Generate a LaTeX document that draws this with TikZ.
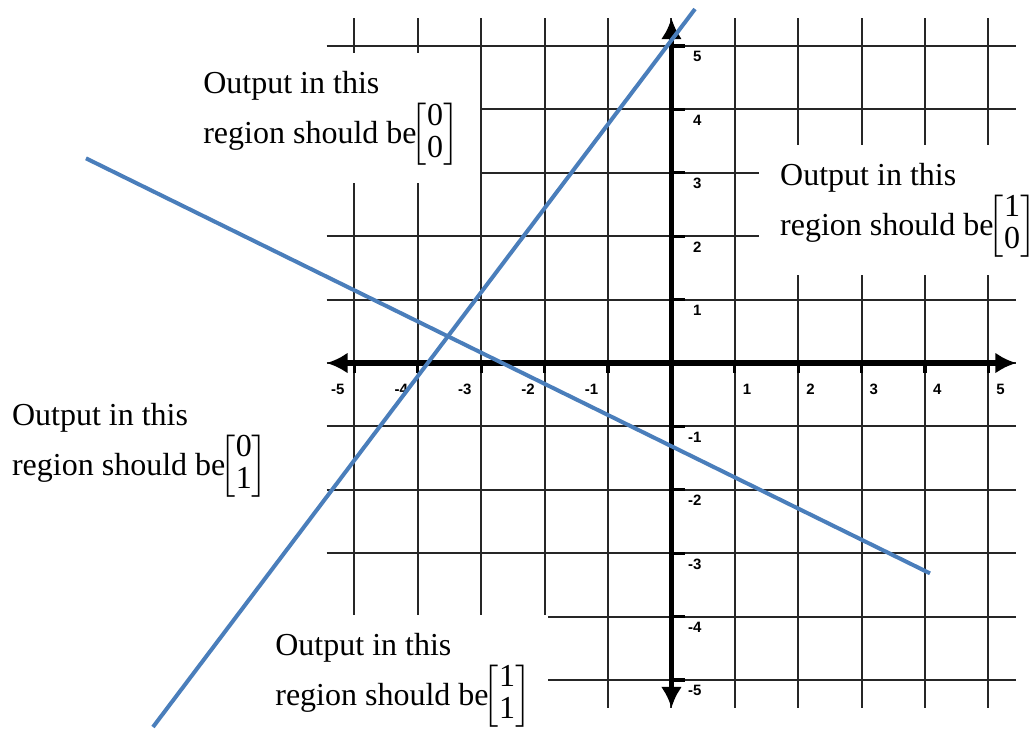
\documentclass[tikz,border=0pt]{standalone}
\usepackage{amsmath}
\usepackage{fontspec}
\setmainfont{Liberation Serif}
\newfontfamily\ticksfont{Liberation Sans}
\usetikzlibrary{arrows.meta}
\definecolor{bndblue}{RGB}{74,126,187}
\newcommand{\outvec}[2]{$\delimiterfactor=780\delimitershortfall=8pt\!\begin{bmatrix}\text{#1}\\\text{#2}\end{bmatrix}$}
\tikzset{
  gridline/.style={line width=1pt, black!85},
  axisline/.style={line width=2.6pt, {Latex[length=10.5pt,width=10.5pt]}-{Latex[length=10.5pt,width=10.5pt]}},
  tickmark/.style={line width=1.6pt},
  numlbl/.style={font=\ticksfont\bfseries\fontsize{7.5}{8}\selectfont, inner sep=0pt},
  outlbl/.style={font=\fontsize{16}{16}\selectfont, inner sep=0pt, anchor=base west},
  coverbox/.style={fill=white, draw=none},
  boundary/.style={line width=2pt, bndblue},
}
\begin{document}
\begin{tikzpicture}[x=31.7pt, y=31.7pt]
    \useasboundingbox (-10.591,-5.773) rectangle (5.718,5.726);
    % Grid, cover boxes, axes and ticks:
    \foreach \k in {-5,...,5}{
        \draw[gridline] (\k,-5.44) -- (\k,5.44);
        \draw[gridline] (-5.44,\k) -- (5.44,\k);
    }
    \fill[coverbox] (-7.6,2.84) rectangle (-3.02,4.89);
    \fill[coverbox] (1.38,1.39) rectangle (5.718,3.44);
    \fill[coverbox] (-5.465,-5.773) rectangle (-1.95,-3.975);
    \draw[axisline] (-5.44,0) -- (5.44,0);
    \draw[axisline] (0,-5.44) -- (0,5.44);
    \foreach \k in {1,...,5}{
        \draw[tickmark] (\k,0) -- (\k,-0.16);
        \draw[tickmark] (-\k,0) -- (-\k,-0.16);
        \draw[tickmark] (0,\k) -- (0.22,\k);
        \draw[tickmark] (0,-\k) -- (0.22,-\k);
        \node[numlbl, anchor=west] (xp\k) at (\k+0.12,-0.42) {\k};
        \node[numlbl, anchor=east] (xn\k) at (-\k-0.15,-0.42) {-\k};
        \node[numlbl, anchor=east] (yp\k) at (0.48,\k-0.17) {\k};
        \node[numlbl, anchor=east] (yn\k) at (0.48,-\k-0.17) {-\k};
    }
    % Decision boundaries:
    \coordinate (bndOneTop) at (0.371,5.584);
    \coordinate (bndOneBot) at (-8.178,-5.741);
    \coordinate (bndTwoL) at (-9.235,3.229);
    \coordinate (bndTwoR) at (4.077,-3.317);
    \draw[boundary] (bndOneBot) -- (bndOneTop);
    \draw[boundary] (bndTwoL) -- (bndTwoR);
    % Region labels:
    \node[outlbl] (regTL) at (-7.39,4.254) {Output in this};
    \node[outlbl] (regTLv) at ([yshift=-25pt]regTL.base west) {region should be\outvec{0}{0}};
    \node[outlbl] (regR) at (1.709,2.808) {Output in this};
    \node[outlbl] (regRv) at ([yshift=-25pt]regR.base west) {region should be\outvec{1}{0}};
    \node[outlbl] (regL) at (-10.407,-0.978) {Output in this};
    \node[outlbl] (regLv) at ([yshift=-25pt]regL.base west) {region should be\outvec{0}{1}};
    \node[outlbl] (regB) at (-6.254,-4.606) {Output in this};
    \node[outlbl] (regBv) at ([yshift=-25pt]regB.base west) {region should be\outvec{1}{1}};
\end{tikzpicture}
\end{document}
